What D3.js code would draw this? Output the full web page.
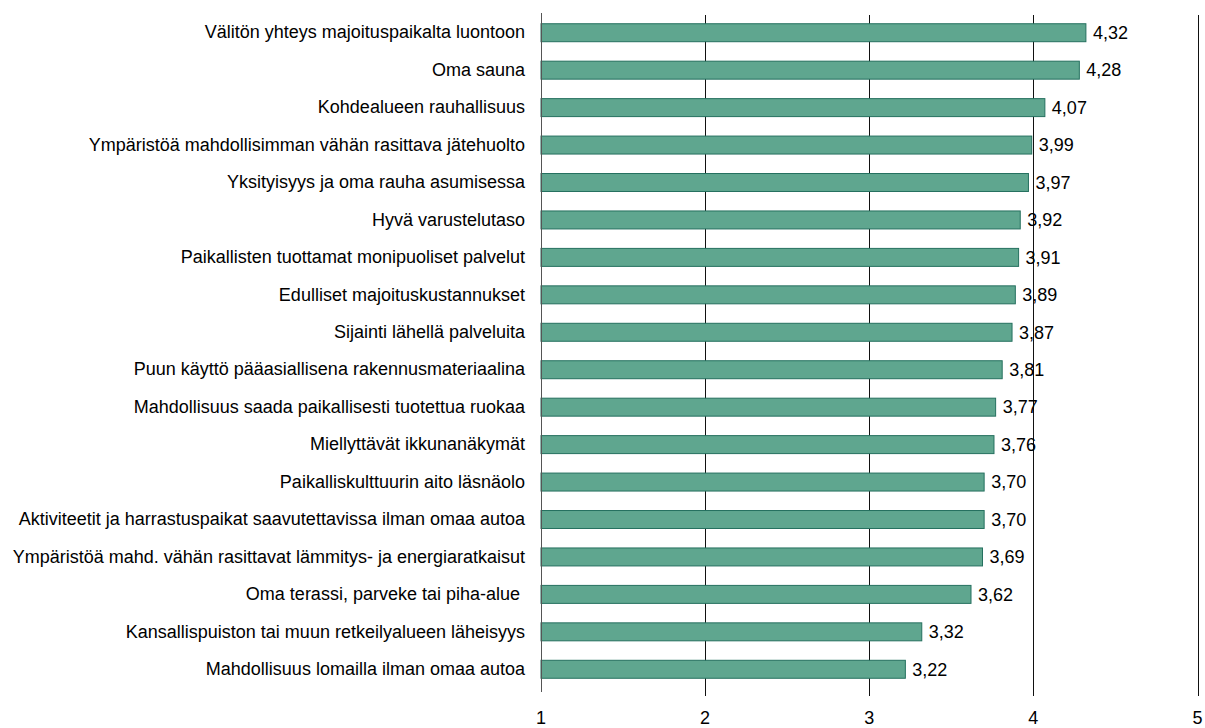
<!DOCTYPE html>
<html lang="fi">
<head>
    <meta charset="UTF-8">
    <title>Majoitus - keskiarvot</title>
    <script src="https://cdnjs.cloudflare.com/ajax/libs/d3/7.8.5/d3.min.js"></script>
    <style>
        body { margin: 0; background: #fff; }
        svg text { font-family: "Liberation Sans", Arial, sans-serif; fill: #000; }
    </style>
</head>
<body>
    <div id="wrapper"></div>
    <script>
        // data
        const categories = [
            "Välitön yhteys majoituspaikalta luontoon",
            "Oma sauna",
            "Kohdealueen rauhallisuus",
            "Ympäristöä mahdollisimman vähän rasittava jätehuolto",
            "Yksityisyys ja oma rauha asumisessa",
            "Hyvä varustelutaso",
            "Paikallisten tuottamat monipuoliset palvelut",
            "Edulliset majoituskustannukset",
            "Sijainti lähellä palveluita",
            "Puun käyttö pääasiallisena rakennusmateriaalina",
            "Mahdollisuus saada paikallisesti tuotettua ruokaa",
            "Miellyttävät ikkunanäkymät",
            "Paikalliskulttuurin aito läsnäolo",
            "Aktiviteetit ja harrastuspaikat saavutettavissa ilman omaa autoa",
            "Ympäristöä mahd. vähän rasittavat lämmitys- ja energiaratkaisut",
            "Oma terassi, parveke tai piha-alue ",
            "Kansallispuiston tai muun retkeilyalueen läheisyys",
            "Mahdollisuus lomailla ilman omaa autoa"
        ]
        const values = [4.32, 4.28, 4.07, 3.99, 3.97, 3.92, 3.91, 3.89, 3.87, 3.81, 3.77, 3.76, 3.70, 3.70, 3.69, 3.62, 3.32, 3.22]
        const xTicks = [1, 2, 3, 4, 5]

        const dimensions = {
            width: 1205,
            height: 728,
            margin: { top: 14, right: 8, bottom: 40, left: 541 }
        }
        dimensions.boundedWidth = 1197.5 - dimensions.margin.left
        dimensions.boundedHeight = 688 - dimensions.margin.top

        const svg = d3.select('#wrapper')
            .append('svg')
                .attr('width', dimensions.width)
                .attr('height', dimensions.height)

        const bounds = svg.append('g')
            .attr('transform', `translate(${dimensions.margin.left},${dimensions.margin.top})`)

        const xScale = d3.scaleLinear()
            .domain([1, 5])
            .range([0, dimensions.boundedWidth])

        const yScale = d3.scaleBand()
            .domain(categories)
            .range([0, dimensions.boundedHeight])
            .paddingInner(0.52)
            .paddingOuter(0.26)

        // gridlines (2..5)
        bounds.append('g')
            .selectAll('line')
            .data(xTicks.slice(1))
            .join('line')
                .attr('x1', d => Math.round(xScale(d)) + 0.5)
                .attr('x2', d => Math.round(xScale(d)) + 0.5)
                .attr('y1', 1)
                .attr('y2', dimensions.boundedHeight + 8)
                .attr('stroke', '#111')
                .attr('stroke-width', 1)

        // bars
        bounds.append('g')
            .selectAll('rect')
            .data(values)
            .join('rect')
                .attr('x', xScale(1))
                .attr('y', (d, i) => yScale(categories[i]))
                .attr('width', d => xScale(d) - xScale(1))
                .attr('height', yScale.bandwidth())
                .attr('fill', '#5fa68f')
                .attr('stroke', '#25705f')
                .attr('stroke-width', 1)

        // value labels
        bounds.append('g')
            .selectAll('text')
            .data(values)
            .join('text')
                .attr('x', d => xScale(d) + 7)
                .attr('y', (d, i) => yScale(categories[i]) + yScale.bandwidth() / 2)
                .attr('dy', '0.35em')
                .style('font-size', '18px')
                .text(d => d3.format('.2f')(d).replace('.', ','))

        // y axis (left line + category labels)
        const yAxisGenerator = d3.axisLeft(yScale)
            .tickSize(0)
            .tickPadding(16)
        const yAxis = bounds.append('g').call(yAxisGenerator)
        yAxis.select('.domain')
            .attr('d', `M0.5,-1V${dimensions.boundedHeight + 4}`)
            .attr('stroke', '#555')
        yAxis.selectAll('text')
            .style('font-size', '18px')
            .style('white-space', 'pre')
            .attr('font-family', null)

        // x tick labels
        bounds.append('g')
            .selectAll('text')
            .data(xTicks)
            .join('text')
                .attr('x', d => xScale(d))
                .attr('y', dimensions.boundedHeight + 30)
                .attr('dy', '0.35em')
                .attr('text-anchor', 'middle')
                .style('font-size', '18px')
                .text(d => d)
    </script>
</body>
</html>
